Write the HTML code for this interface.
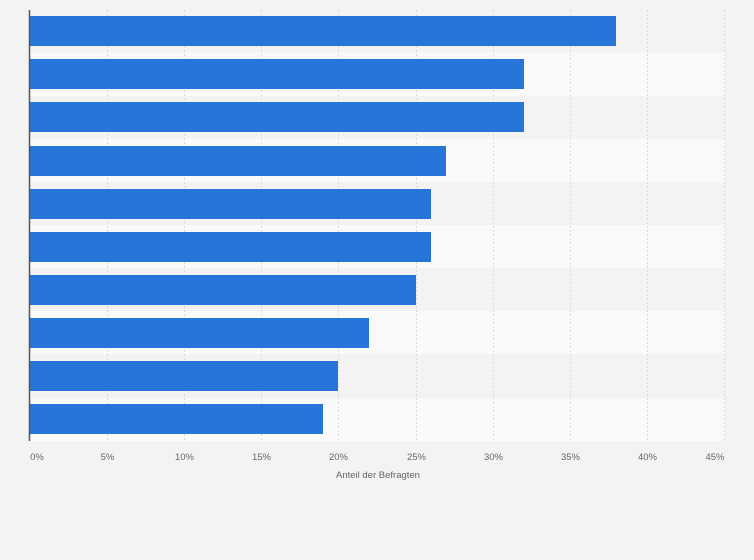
<!DOCTYPE html>
<html><head><meta charset="utf-8"><style>
body{margin:0;background:#f3f3f3;}
</style></head><body>
<svg width="754" height="560" xmlns="http://www.w3.org/2000/svg" style="display:block;font-family:'Liberation Sans',sans-serif">
<rect width="754" height="560" fill="#f3f3f3"/>
<g fill="#f9f9f9">
<rect x="30" y="53" width="695" height="43"/>
<rect x="30" y="139" width="695" height="43"/>
<rect x="30" y="225" width="695" height="43"/>
<rect x="30" y="311" width="695" height="43"/>
<rect x="30" y="398" width="695" height="43"/>
</g>
<g stroke="#dcdcdc" stroke-width="1" stroke-dasharray="2,2">
<line x1="107.5" y1="10" x2="107.5" y2="441"/>
<line x1="184.5" y1="10" x2="184.5" y2="441"/>
<line x1="261.5" y1="10" x2="261.5" y2="441"/>
<line x1="338.5" y1="10" x2="338.5" y2="441"/>
<line x1="416.5" y1="10" x2="416.5" y2="441"/>
<line x1="493.5" y1="10" x2="493.5" y2="441"/>
<line x1="570.5" y1="10" x2="570.5" y2="441"/>
<line x1="647.5" y1="10" x2="647.5" y2="441"/>
<line x1="724.5" y1="10" x2="724.5" y2="441"/>
</g>
<g fill="#2775d9">
<rect x="30" y="16" width="586" height="30"/>
<rect x="30" y="59" width="494" height="30"/>
<rect x="30" y="102" width="494" height="30"/>
<rect x="30" y="146" width="416" height="30"/>
<rect x="30" y="189" width="401" height="30"/>
<rect x="30" y="232" width="401" height="30"/>
<rect x="30" y="275" width="386" height="30"/>
<rect x="30" y="318" width="339" height="30"/>
<rect x="30" y="361" width="308" height="30"/>
<rect x="30" y="404" width="293" height="30"/>
</g>
<line x1="29.5" y1="10" x2="29.5" y2="441" stroke="#555" stroke-width="1.5"/>
<g fill="#666" font-size="9.5" text-anchor="middle">
<text x="37" y="460">0%</text>
<text x="107.5" y="460">5%</text>
<text x="184.5" y="460">10%</text>
<text x="261.5" y="460">15%</text>
<text x="338.5" y="460">20%</text>
<text x="416.5" y="460">25%</text>
<text x="493.5" y="460">30%</text>
<text x="570.5" y="460">35%</text>
<text x="647.5" y="460">40%</text>
<text x="715" y="460">45%</text>
<text x="378" y="478">Anteil der Befragten</text>
</g>
</svg>
</body></html>
